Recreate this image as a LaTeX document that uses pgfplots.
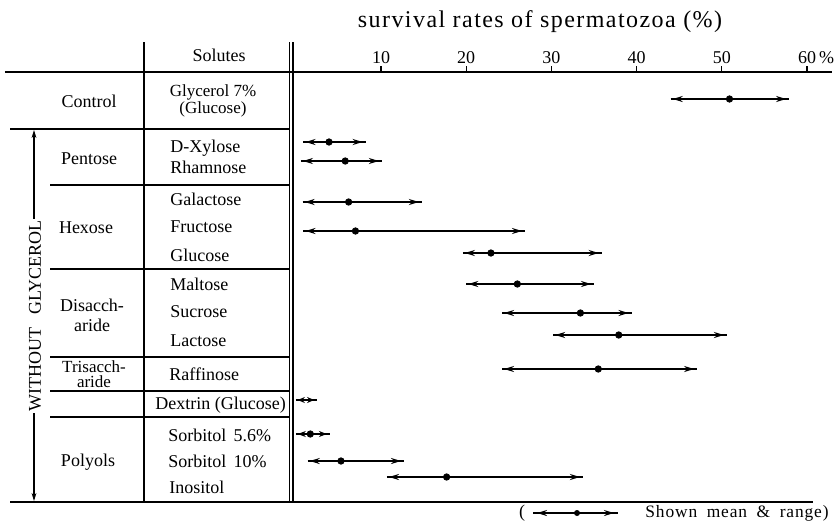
\documentclass[border=0pt]{standalone}
\usepackage{fontspec}
\setmainfont{Liberation Serif}
\usepackage{pgfplots}
\pgfplotsset{compat=1.18}
\usetikzlibrary{arrows.meta}

% one range bar: [arrow length] y-row, low, high
\newcommand{\rangebar}[4][5pt]{%
  \addplot[black, line width=1pt, no marks, forget plot] coordinates {(#3,#2) (#4,#2)};
  \addplot[black, line width=1pt, no marks, forget plot,
    {Stealth[length=#1,width=3pt]}-{Stealth[length=#1,width=3pt]},
    shorten <=1pt, shorten >=1.5pt] coordinates {(#3,#2) (#4,#2)};
}
\newcommand{\meandot}[2]{%
  \addplot[only marks, mark=*, mark size=1.6pt, black, forget plot] coordinates {(#2,#1)};
}

\begin{document}
\fontsize{9}{10.5}\selectfont
\begin{tikzpicture}
% ---------------- table (pixel coordinates) ----------------
\begin{axis}[
  at={(0,0)}, anchor=south west,
  width=417pt, height=260.5pt, scale only axis,
  xmin=0, xmax=834, ymin=0, ymax=521, y dir=reverse,
  hide axis, clip=false]
  % title
  \node[font=\fontsize{12}{14}\selectfont\addfontfeature{LetterSpace=6}] at (540,22) {survival rates of spermatozoa (\%)};
  % vertical rules
  \draw[line width=0.6pt] (144,42) -- (144,502);
  \draw[line width=0.6pt] (289.5,42) -- (289.5,502);
  \draw[line width=0.6pt] (293,42) -- (293,502);
  % horizontal rules
  \draw[line width=0.6pt] (10,129) -- (290,129);
  \draw[line width=0.6pt] (50,185) -- (290,185);
  \draw[line width=0.6pt] (50,269) -- (290,269);
  \draw[line width=0.6pt] (50,357) -- (290,357);
  \draw[line width=0.6pt] (50,391) -- (290,391);
  \draw[line width=0.6pt] (50,417) -- (290,417);
  \draw[line width=0.9pt] (10,502) -- (813,502);
  % WITHOUT GLYCEROL arrow
  \draw[line width=0.6pt, {Stealth[length=4pt,width=2.4pt]}-{Stealth[length=4pt,width=2.4pt]}] (34,130) -- (34,501);
  \node[rotate=90, fill=white, inner sep=1pt] at (35,316) {WITHOUT\hspace{0.7em}GLYCEROL};
  % header
  \node at (219,55) {Solutes};
  % groups
  \node at (89,101) {Control};
  \node[align=center, font=\fontsize{8.5}{7.5}\selectfont] at (213,101) {Glycerol 7\%\\(Glucose)};
  \node at (89,159) {Pentose};
  \node at (86,228) {Hexose};
  \node[align=center, font=\fontsize{9}{10}\selectfont] at (92,315) {Disacch-\\aride};
  \node[align=center, font=\fontsize{8.5}{7.8}\selectfont, inner sep=0pt] at (94,374) {Trisacch-\\aride};
  \node at (88,462) {Polyols};
  % solutes
  \node[anchor=west] at (164,148) {D-Xylose};
  \node[anchor=west] at (164,167) {Rhamnose};
  \node[anchor=west] at (164,199) {Galactose};
  \node[anchor=west] at (164,227) {Fructose};
  \node[anchor=west] at (164,255) {Glucose};
  \node[anchor=west] at (164,284) {Maltose};
  \node[anchor=west] at (164,312) {Sucrose};
  \node[anchor=west] at (164,341) {Lactose};
  \node[anchor=west] at (163,374) {Raffinose};
  \node[anchor=west, inner sep=0pt] at (155,405) {Dextrin (Glucose)};
  \node[anchor=west] at (162,435) {Sorbitol\hspace{0.4em}5.6\%};
  \node[anchor=west] at (162,461) {Sorbitol\hspace{0.4em}10\%};
  \node[anchor=west] at (163,487) {Inositol};
  % legend
  \node at (522,513) {(};
  \draw[line width=1pt] (533,513) -- (618,513);
  \draw[line width=1pt, {Stealth[length=5pt,width=3pt]}-{Stealth[length=5pt,width=3pt]}, shorten <=2pt, shorten >=2pt] (533,513) -- (618,513);
  \fill (577,513) circle[radius=1.5pt];
  \node[anchor=west, inner sep=0pt, font=\fontsize{8.7}{10}\selectfont\addfontfeature{LetterSpace=5}] at (645,513) {Shown\hspace{0.55em}mean\hspace{0.55em}\&\hspace{0.55em}range)};
\end{axis}
% ---------------- data (percent) ----------------
\begin{axis}[
  at={(2.5pt,0)}, anchor=south west,
  width=413.5pt, height=224.5pt, scale only axis,
  xmin=-34.13, xmax=62.93, ymin=72, ymax=521, y dir=reverse,
  axis x line=top, axis y line=none,
  x axis line style={-, line width=0.9pt},
  xtick={10,20,30,40,50,60},
  xticklabels={10,20,30,40,50,{60\rlap{\,\%}}},
  tick align=outside, major tick length=3pt,
  tick style={line width=0.6pt, black},
  xticklabel style={font=\fontsize{9}{10}\selectfont, inner sep=1pt},
  clip=false]
  % Control
  \rangebar{99}{44.0}{57.9}   \meandot{99}{50.9}
  % Pentose
  \rangebar{142}{0.9}{8.2}    \meandot{142}{3.9}
  \rangebar{161}{0.6}{10.1}   \meandot{161}{5.8}
  % Hexose
  \rangebar{202}{0.8}{14.8}   \meandot{202}{6.2}
  \rangebar{231}{0.9}{26.9}   \meandot{231}{7.0}
  \rangebar{253}{19.6}{35.9}  \meandot{253}{22.9}
  % Disaccharide
  \rangebar{284}{20.0}{35.0}  \meandot{284}{26.0}
  \rangebar{313}{24.2}{39.4}  \meandot{313}{33.4}
  \rangebar{335}{30.2}{50.6}  \meandot{335}{37.9}
  % Trisaccharide
  \rangebar{369}{24.2}{47.1}  \meandot{369}{35.5}
  % Dextrin (mean not marked)
  \rangebar[3.5pt]{400}{0.0}{2.5}
  % Polyols
  \rangebar[4pt]{434}{0.0}{4.0}    \meandot{434}{1.7}
  \rangebar{461}{1.4}{12.7}   \meandot{461}{5.3}
  \rangebar{477}{10.7}{33.7}  \meandot{477}{17.7}
\end{axis}
\pgfresetboundingbox
\useasboundingbox (0,0) rectangle (417pt,260.5pt);
\end{tikzpicture}
\end{document}
